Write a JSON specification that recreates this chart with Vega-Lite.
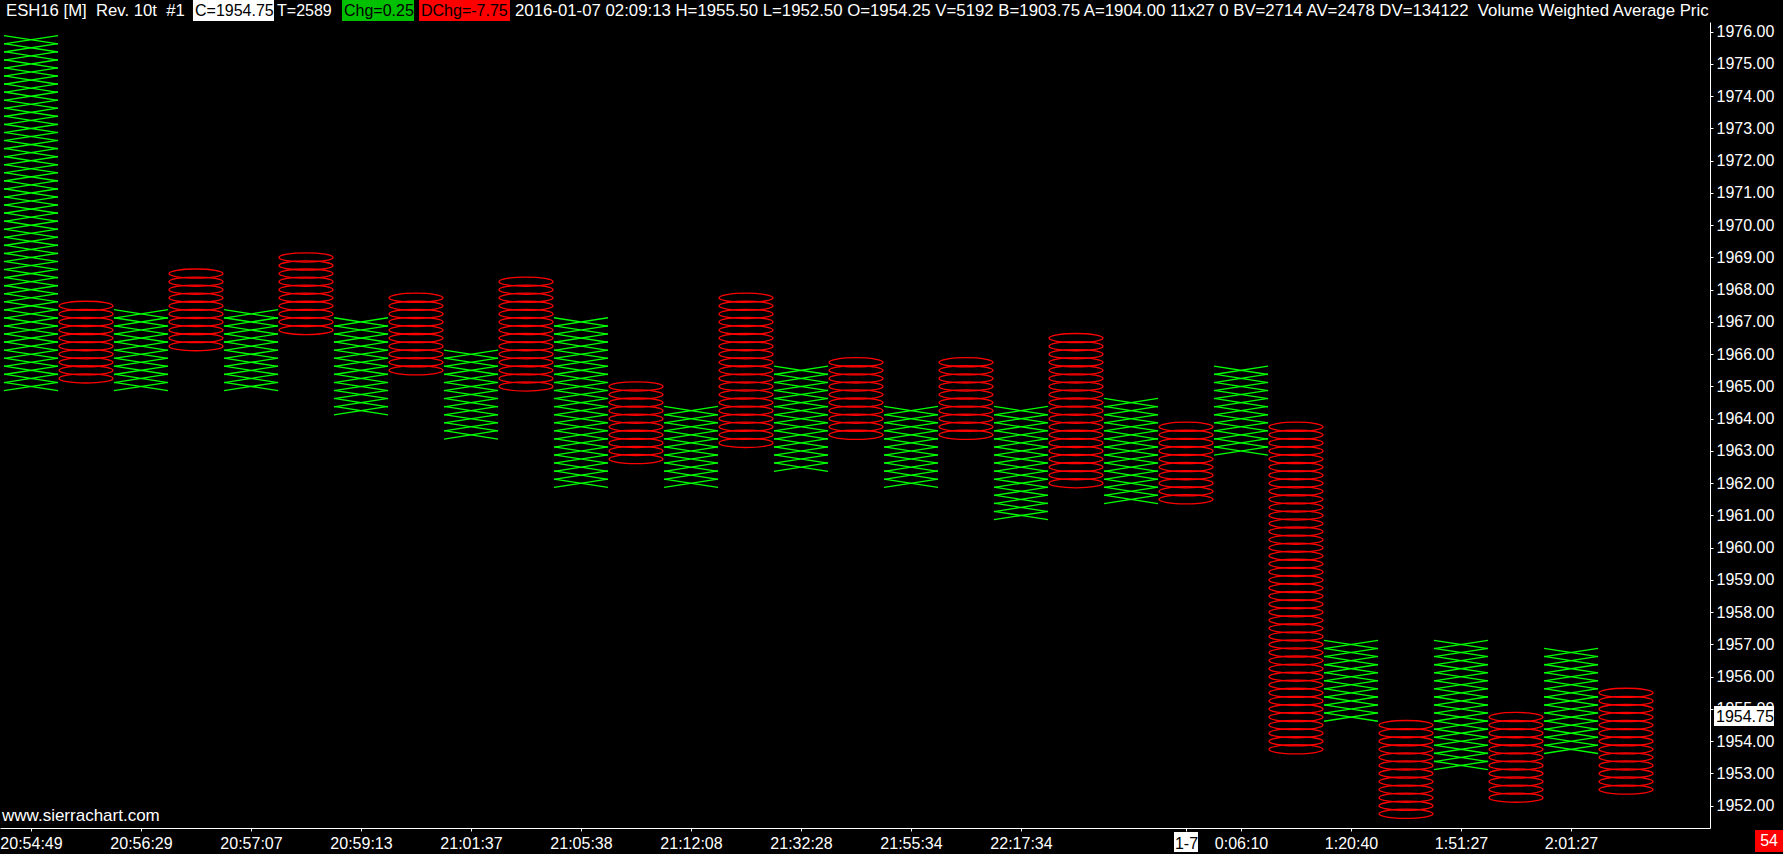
{
"$schema": "https://vega.github.io/schema/vega-lite/v6.json",
"autosize": {"type": "none"},
"padding": {"left": 0, "top": 22, "right": 73, "bottom": 26},
"width": 1710,
"height": 806,
"background": "#000000",
"config": {"view": {"stroke": null}, "text": {"font": "Liberation Sans"},
"axis": {"grid": false, "title": null, "domainColor": "#ffffff", "tickColor": "#ffffff", "labelColor": "#ffffff", "labelFont": "Liberation Sans", "labelFontSize": 16, "tickSize": 3, "labelOverlap": false, "labelFlush": false}},
"datasets": {
"boxes": [
{"col":1,"price":1965,"box":"X"},{"col":1,"price":1965.25,"box":"X"},{"col":1,"price":1965.5,"box":"X"},{"col":1,"price":1965.75,"box":"X"},
{"col":1,"price":1966,"box":"X"},{"col":1,"price":1966.25,"box":"X"},{"col":1,"price":1966.5,"box":"X"},{"col":1,"price":1966.75,"box":"X"},
{"col":1,"price":1967,"box":"X"},{"col":1,"price":1967.25,"box":"X"},{"col":1,"price":1967.5,"box":"X"},{"col":1,"price":1967.75,"box":"X"},
{"col":1,"price":1968,"box":"X"},{"col":1,"price":1968.25,"box":"X"},{"col":1,"price":1968.5,"box":"X"},{"col":1,"price":1968.75,"box":"X"},
{"col":1,"price":1969,"box":"X"},{"col":1,"price":1969.25,"box":"X"},{"col":1,"price":1969.5,"box":"X"},{"col":1,"price":1969.75,"box":"X"},
{"col":1,"price":1970,"box":"X"},{"col":1,"price":1970.25,"box":"X"},{"col":1,"price":1970.5,"box":"X"},{"col":1,"price":1970.75,"box":"X"},
{"col":1,"price":1971,"box":"X"},{"col":1,"price":1971.25,"box":"X"},{"col":1,"price":1971.5,"box":"X"},{"col":1,"price":1971.75,"box":"X"},
{"col":1,"price":1972,"box":"X"},{"col":1,"price":1972.25,"box":"X"},{"col":1,"price":1972.5,"box":"X"},{"col":1,"price":1972.75,"box":"X"},
{"col":1,"price":1973,"box":"X"},{"col":1,"price":1973.25,"box":"X"},{"col":1,"price":1973.5,"box":"X"},{"col":1,"price":1973.75,"box":"X"},
{"col":1,"price":1974,"box":"X"},{"col":1,"price":1974.25,"box":"X"},{"col":1,"price":1974.5,"box":"X"},{"col":1,"price":1974.75,"box":"X"},
{"col":1,"price":1975,"box":"X"},{"col":1,"price":1975.25,"box":"X"},{"col":1,"price":1975.5,"box":"X"},{"col":1,"price":1975.75,"box":"X"},
{"col":2,"price":1965.25,"box":"O"},{"col":2,"price":1965.5,"box":"O"},{"col":2,"price":1965.75,"box":"O"},{"col":2,"price":1966,"box":"O"},{"col":2,"price":1966.25,"box":"O"},
{"col":2,"price":1966.5,"box":"O"},{"col":2,"price":1966.75,"box":"O"},{"col":2,"price":1967,"box":"O"},{"col":2,"price":1967.25,"box":"O"},{"col":2,"price":1967.5,"box":"O"},
{"col":3,"price":1965,"box":"X"},{"col":3,"price":1965.25,"box":"X"},{"col":3,"price":1965.5,"box":"X"},{"col":3,"price":1965.75,"box":"X"},{"col":3,"price":1966,"box":"X"},
{"col":3,"price":1966.25,"box":"X"},{"col":3,"price":1966.5,"box":"X"},{"col":3,"price":1966.75,"box":"X"},{"col":3,"price":1967,"box":"X"},{"col":3,"price":1967.25,"box":"X"},
{"col":4,"price":1966.25,"box":"O"},{"col":4,"price":1966.5,"box":"O"},{"col":4,"price":1966.75,"box":"O"},{"col":4,"price":1967,"box":"O"},{"col":4,"price":1967.25,"box":"O"},
{"col":4,"price":1967.5,"box":"O"},{"col":4,"price":1967.75,"box":"O"},{"col":4,"price":1968,"box":"O"},{"col":4,"price":1968.25,"box":"O"},{"col":4,"price":1968.5,"box":"O"},
{"col":5,"price":1965,"box":"X"},{"col":5,"price":1965.25,"box":"X"},{"col":5,"price":1965.5,"box":"X"},{"col":5,"price":1965.75,"box":"X"},{"col":5,"price":1966,"box":"X"},
{"col":5,"price":1966.25,"box":"X"},{"col":5,"price":1966.5,"box":"X"},{"col":5,"price":1966.75,"box":"X"},{"col":5,"price":1967,"box":"X"},{"col":5,"price":1967.25,"box":"X"},
{"col":6,"price":1966.75,"box":"O"},{"col":6,"price":1967,"box":"O"},{"col":6,"price":1967.25,"box":"O"},{"col":6,"price":1967.5,"box":"O"},{"col":6,"price":1967.75,"box":"O"},
{"col":6,"price":1968,"box":"O"},{"col":6,"price":1968.25,"box":"O"},{"col":6,"price":1968.5,"box":"O"},{"col":6,"price":1968.75,"box":"O"},{"col":6,"price":1969,"box":"O"},
{"col":7,"price":1964.25,"box":"X"},{"col":7,"price":1964.5,"box":"X"},{"col":7,"price":1964.75,"box":"X"},{"col":7,"price":1965,"box":"X"},{"col":7,"price":1965.25,"box":"X"},{"col":7,"price":1965.5,"box":"X"},
{"col":7,"price":1965.75,"box":"X"},{"col":7,"price":1966,"box":"X"},{"col":7,"price":1966.25,"box":"X"},{"col":7,"price":1966.5,"box":"X"},{"col":7,"price":1966.75,"box":"X"},{"col":7,"price":1967,"box":"X"},
{"col":8,"price":1965.5,"box":"O"},{"col":8,"price":1965.75,"box":"O"},{"col":8,"price":1966,"box":"O"},{"col":8,"price":1966.25,"box":"O"},{"col":8,"price":1966.5,"box":"O"},
{"col":8,"price":1966.75,"box":"O"},{"col":8,"price":1967,"box":"O"},{"col":8,"price":1967.25,"box":"O"},{"col":8,"price":1967.5,"box":"O"},{"col":8,"price":1967.75,"box":"O"},
{"col":9,"price":1963.5,"box":"X"},{"col":9,"price":1963.75,"box":"X"},{"col":9,"price":1964,"box":"X"},{"col":9,"price":1964.25,"box":"X"},{"col":9,"price":1964.5,"box":"X"},{"col":9,"price":1964.75,"box":"X"},
{"col":9,"price":1965,"box":"X"},{"col":9,"price":1965.25,"box":"X"},{"col":9,"price":1965.5,"box":"X"},{"col":9,"price":1965.75,"box":"X"},{"col":9,"price":1966,"box":"X"},
{"col":10,"price":1965,"box":"O"},{"col":10,"price":1965.25,"box":"O"},{"col":10,"price":1965.5,"box":"O"},{"col":10,"price":1965.75,"box":"O"},{"col":10,"price":1966,"box":"O"},
{"col":10,"price":1966.25,"box":"O"},{"col":10,"price":1966.5,"box":"O"},{"col":10,"price":1966.75,"box":"O"},{"col":10,"price":1967,"box":"O"},{"col":10,"price":1967.25,"box":"O"},
{"col":10,"price":1967.5,"box":"O"},{"col":10,"price":1967.75,"box":"O"},{"col":10,"price":1968,"box":"O"},{"col":10,"price":1968.25,"box":"O"},
{"col":11,"price":1962,"box":"X"},{"col":11,"price":1962.25,"box":"X"},{"col":11,"price":1962.5,"box":"X"},{"col":11,"price":1962.75,"box":"X"},{"col":11,"price":1963,"box":"X"},
{"col":11,"price":1963.25,"box":"X"},{"col":11,"price":1963.5,"box":"X"},{"col":11,"price":1963.75,"box":"X"},{"col":11,"price":1964,"box":"X"},{"col":11,"price":1964.25,"box":"X"},
{"col":11,"price":1964.5,"box":"X"},{"col":11,"price":1964.75,"box":"X"},{"col":11,"price":1965,"box":"X"},{"col":11,"price":1965.25,"box":"X"},{"col":11,"price":1965.5,"box":"X"},
{"col":11,"price":1965.75,"box":"X"},{"col":11,"price":1966,"box":"X"},{"col":11,"price":1966.25,"box":"X"},{"col":11,"price":1966.5,"box":"X"},{"col":11,"price":1966.75,"box":"X"},{"col":11,"price":1967,"box":"X"},
{"col":12,"price":1962.75,"box":"O"},{"col":12,"price":1963,"box":"O"},{"col":12,"price":1963.25,"box":"O"},{"col":12,"price":1963.5,"box":"O"},{"col":12,"price":1963.75,"box":"O"},
{"col":12,"price":1964,"box":"O"},{"col":12,"price":1964.25,"box":"O"},{"col":12,"price":1964.5,"box":"O"},{"col":12,"price":1964.75,"box":"O"},{"col":12,"price":1965,"box":"O"},
{"col":13,"price":1962,"box":"X"},{"col":13,"price":1962.25,"box":"X"},{"col":13,"price":1962.5,"box":"X"},{"col":13,"price":1962.75,"box":"X"},{"col":13,"price":1963,"box":"X"},
{"col":13,"price":1963.25,"box":"X"},{"col":13,"price":1963.5,"box":"X"},{"col":13,"price":1963.75,"box":"X"},{"col":13,"price":1964,"box":"X"},{"col":13,"price":1964.25,"box":"X"},
{"col":14,"price":1963.25,"box":"O"},{"col":14,"price":1963.5,"box":"O"},{"col":14,"price":1963.75,"box":"O"},{"col":14,"price":1964,"box":"O"},{"col":14,"price":1964.25,"box":"O"},
{"col":14,"price":1964.5,"box":"O"},{"col":14,"price":1964.75,"box":"O"},{"col":14,"price":1965,"box":"O"},{"col":14,"price":1965.25,"box":"O"},{"col":14,"price":1965.5,"box":"O"},
{"col":14,"price":1965.75,"box":"O"},{"col":14,"price":1966,"box":"O"},{"col":14,"price":1966.25,"box":"O"},{"col":14,"price":1966.5,"box":"O"},{"col":14,"price":1966.75,"box":"O"},
{"col":14,"price":1967,"box":"O"},{"col":14,"price":1967.25,"box":"O"},{"col":14,"price":1967.5,"box":"O"},{"col":14,"price":1967.75,"box":"O"},
{"col":15,"price":1962.5,"box":"X"},{"col":15,"price":1962.75,"box":"X"},{"col":15,"price":1963,"box":"X"},{"col":15,"price":1963.25,"box":"X"},{"col":15,"price":1963.5,"box":"X"},
{"col":15,"price":1963.75,"box":"X"},{"col":15,"price":1964,"box":"X"},{"col":15,"price":1964.25,"box":"X"},{"col":15,"price":1964.5,"box":"X"},{"col":15,"price":1964.75,"box":"X"},
{"col":15,"price":1965,"box":"X"},{"col":15,"price":1965.25,"box":"X"},{"col":15,"price":1965.5,"box":"X"},
{"col":16,"price":1963.5,"box":"O"},{"col":16,"price":1963.75,"box":"O"},{"col":16,"price":1964,"box":"O"},{"col":16,"price":1964.25,"box":"O"},{"col":16,"price":1964.5,"box":"O"},
{"col":16,"price":1964.75,"box":"O"},{"col":16,"price":1965,"box":"O"},{"col":16,"price":1965.25,"box":"O"},{"col":16,"price":1965.5,"box":"O"},{"col":16,"price":1965.75,"box":"O"},
{"col":17,"price":1962,"box":"X"},{"col":17,"price":1962.25,"box":"X"},{"col":17,"price":1962.5,"box":"X"},{"col":17,"price":1962.75,"box":"X"},{"col":17,"price":1963,"box":"X"},
{"col":17,"price":1963.25,"box":"X"},{"col":17,"price":1963.5,"box":"X"},{"col":17,"price":1963.75,"box":"X"},{"col":17,"price":1964,"box":"X"},{"col":17,"price":1964.25,"box":"X"},
{"col":18,"price":1963.5,"box":"O"},{"col":18,"price":1963.75,"box":"O"},{"col":18,"price":1964,"box":"O"},{"col":18,"price":1964.25,"box":"O"},{"col":18,"price":1964.5,"box":"O"},
{"col":18,"price":1964.75,"box":"O"},{"col":18,"price":1965,"box":"O"},{"col":18,"price":1965.25,"box":"O"},{"col":18,"price":1965.5,"box":"O"},{"col":18,"price":1965.75,"box":"O"},
{"col":19,"price":1961,"box":"X"},{"col":19,"price":1961.25,"box":"X"},{"col":19,"price":1961.5,"box":"X"},{"col":19,"price":1961.75,"box":"X"},{"col":19,"price":1962,"box":"X"},
{"col":19,"price":1962.25,"box":"X"},{"col":19,"price":1962.5,"box":"X"},{"col":19,"price":1962.75,"box":"X"},{"col":19,"price":1963,"box":"X"},{"col":19,"price":1963.25,"box":"X"},
{"col":19,"price":1963.5,"box":"X"},{"col":19,"price":1963.75,"box":"X"},{"col":19,"price":1964,"box":"X"},{"col":19,"price":1964.25,"box":"X"},
{"col":20,"price":1962,"box":"O"},{"col":20,"price":1962.25,"box":"O"},{"col":20,"price":1962.5,"box":"O"},{"col":20,"price":1962.75,"box":"O"},{"col":20,"price":1963,"box":"O"},
{"col":20,"price":1963.25,"box":"O"},{"col":20,"price":1963.5,"box":"O"},{"col":20,"price":1963.75,"box":"O"},{"col":20,"price":1964,"box":"O"},{"col":20,"price":1964.25,"box":"O"},
{"col":20,"price":1964.5,"box":"O"},{"col":20,"price":1964.75,"box":"O"},{"col":20,"price":1965,"box":"O"},{"col":20,"price":1965.25,"box":"O"},{"col":20,"price":1965.5,"box":"O"},
{"col":20,"price":1965.75,"box":"O"},{"col":20,"price":1966,"box":"O"},{"col":20,"price":1966.25,"box":"O"},{"col":20,"price":1966.5,"box":"O"},
{"col":21,"price":1961.5,"box":"X"},{"col":21,"price":1961.75,"box":"X"},{"col":21,"price":1962,"box":"X"},{"col":21,"price":1962.25,"box":"X"},{"col":21,"price":1962.5,"box":"X"},
{"col":21,"price":1962.75,"box":"X"},{"col":21,"price":1963,"box":"X"},{"col":21,"price":1963.25,"box":"X"},{"col":21,"price":1963.5,"box":"X"},{"col":21,"price":1963.75,"box":"X"},
{"col":21,"price":1964,"box":"X"},{"col":21,"price":1964.25,"box":"X"},{"col":21,"price":1964.5,"box":"X"},
{"col":22,"price":1961.5,"box":"O"},{"col":22,"price":1961.75,"box":"O"},{"col":22,"price":1962,"box":"O"},{"col":22,"price":1962.25,"box":"O"},{"col":22,"price":1962.5,"box":"O"},
{"col":22,"price":1962.75,"box":"O"},{"col":22,"price":1963,"box":"O"},{"col":22,"price":1963.25,"box":"O"},{"col":22,"price":1963.5,"box":"O"},{"col":22,"price":1963.75,"box":"O"},
{"col":23,"price":1963,"box":"X"},{"col":23,"price":1963.25,"box":"X"},{"col":23,"price":1963.5,"box":"X"},{"col":23,"price":1963.75,"box":"X"},{"col":23,"price":1964,"box":"X"},{"col":23,"price":1964.25,"box":"X"},
{"col":23,"price":1964.5,"box":"X"},{"col":23,"price":1964.75,"box":"X"},{"col":23,"price":1965,"box":"X"},{"col":23,"price":1965.25,"box":"X"},{"col":23,"price":1965.5,"box":"X"},
{"col":24,"price":1953.75,"box":"O"},{"col":24,"price":1954,"box":"O"},{"col":24,"price":1954.25,"box":"O"},{"col":24,"price":1954.5,"box":"O"},{"col":24,"price":1954.75,"box":"O"},
{"col":24,"price":1955,"box":"O"},{"col":24,"price":1955.25,"box":"O"},{"col":24,"price":1955.5,"box":"O"},{"col":24,"price":1955.75,"box":"O"},
{"col":24,"price":1956,"box":"O"},{"col":24,"price":1956.25,"box":"O"},{"col":24,"price":1956.5,"box":"O"},{"col":24,"price":1956.75,"box":"O"},
{"col":24,"price":1957,"box":"O"},{"col":24,"price":1957.25,"box":"O"},{"col":24,"price":1957.5,"box":"O"},{"col":24,"price":1957.75,"box":"O"},
{"col":24,"price":1958,"box":"O"},{"col":24,"price":1958.25,"box":"O"},{"col":24,"price":1958.5,"box":"O"},{"col":24,"price":1958.75,"box":"O"},
{"col":24,"price":1959,"box":"O"},{"col":24,"price":1959.25,"box":"O"},{"col":24,"price":1959.5,"box":"O"},{"col":24,"price":1959.75,"box":"O"},
{"col":24,"price":1960,"box":"O"},{"col":24,"price":1960.25,"box":"O"},{"col":24,"price":1960.5,"box":"O"},{"col":24,"price":1960.75,"box":"O"},
{"col":24,"price":1961,"box":"O"},{"col":24,"price":1961.25,"box":"O"},{"col":24,"price":1961.5,"box":"O"},{"col":24,"price":1961.75,"box":"O"},
{"col":24,"price":1962,"box":"O"},{"col":24,"price":1962.25,"box":"O"},{"col":24,"price":1962.5,"box":"O"},{"col":24,"price":1962.75,"box":"O"},
{"col":24,"price":1963,"box":"O"},{"col":24,"price":1963.25,"box":"O"},{"col":24,"price":1963.5,"box":"O"},{"col":24,"price":1963.75,"box":"O"},
{"col":25,"price":1954.75,"box":"X"},{"col":25,"price":1955,"box":"X"},{"col":25,"price":1955.25,"box":"X"},{"col":25,"price":1955.5,"box":"X"},{"col":25,"price":1955.75,"box":"X"},
{"col":25,"price":1956,"box":"X"},{"col":25,"price":1956.25,"box":"X"},{"col":25,"price":1956.5,"box":"X"},{"col":25,"price":1956.75,"box":"X"},{"col":25,"price":1957,"box":"X"},
{"col":26,"price":1951.75,"box":"O"},{"col":26,"price":1952,"box":"O"},{"col":26,"price":1952.25,"box":"O"},{"col":26,"price":1952.5,"box":"O"},{"col":26,"price":1952.75,"box":"O"},{"col":26,"price":1953,"box":"O"},
{"col":26,"price":1953.25,"box":"O"},{"col":26,"price":1953.5,"box":"O"},{"col":26,"price":1953.75,"box":"O"},{"col":26,"price":1954,"box":"O"},{"col":26,"price":1954.25,"box":"O"},{"col":26,"price":1954.5,"box":"O"},
{"col":27,"price":1953.25,"box":"X"},{"col":27,"price":1953.5,"box":"X"},{"col":27,"price":1953.75,"box":"X"},{"col":27,"price":1954,"box":"X"},{"col":27,"price":1954.25,"box":"X"},{"col":27,"price":1954.5,"box":"X"},
{"col":27,"price":1954.75,"box":"X"},{"col":27,"price":1955,"box":"X"},{"col":27,"price":1955.25,"box":"X"},{"col":27,"price":1955.5,"box":"X"},{"col":27,"price":1955.75,"box":"X"},{"col":27,"price":1956,"box":"X"},
{"col":27,"price":1956.25,"box":"X"},{"col":27,"price":1956.5,"box":"X"},{"col":27,"price":1956.75,"box":"X"},{"col":27,"price":1957,"box":"X"},
{"col":28,"price":1952.25,"box":"O"},{"col":28,"price":1952.5,"box":"O"},{"col":28,"price":1952.75,"box":"O"},{"col":28,"price":1953,"box":"O"},{"col":28,"price":1953.25,"box":"O"},{"col":28,"price":1953.5,"box":"O"},
{"col":28,"price":1953.75,"box":"O"},{"col":28,"price":1954,"box":"O"},{"col":28,"price":1954.25,"box":"O"},{"col":28,"price":1954.5,"box":"O"},{"col":28,"price":1954.75,"box":"O"},
{"col":29,"price":1953.75,"box":"X"},{"col":29,"price":1954,"box":"X"},{"col":29,"price":1954.25,"box":"X"},{"col":29,"price":1954.5,"box":"X"},{"col":29,"price":1954.75,"box":"X"},{"col":29,"price":1955,"box":"X"},
{"col":29,"price":1955.25,"box":"X"},{"col":29,"price":1955.5,"box":"X"},{"col":29,"price":1955.75,"box":"X"},{"col":29,"price":1956,"box":"X"},{"col":29,"price":1956.25,"box":"X"},{"col":29,"price":1956.5,"box":"X"},{"col":29,"price":1956.75,"box":"X"},
{"col":30,"price":1952.5,"box":"O"},{"col":30,"price":1952.75,"box":"O"},{"col":30,"price":1953,"box":"O"},{"col":30,"price":1953.25,"box":"O"},{"col":30,"price":1953.5,"box":"O"},{"col":30,"price":1953.75,"box":"O"},
{"col":30,"price":1954,"box":"O"},{"col":30,"price":1954.25,"box":"O"},{"col":30,"price":1954.5,"box":"O"},{"col":30,"price":1954.75,"box":"O"},{"col":30,"price":1955,"box":"O"},{"col":30,"price":1955.25,"box":"O"},{"col":30,"price":1955.5,"box":"O"}
]
},
"data": {"name": "boxes"},
"layer": [
{
"transform": [{"filter": "datum.box == 'X'"}],
"mark": {"type": "point", "shape": "M-1,-0.155L1,0.155M-1,0.155L1,-0.155", "size": 2916, "filled": false, "color": "#00ff00", "opacity": 1, "strokeWidth": 1.3},
"encoding": {
"x": {"field": "col", "type": "quantitative", "title": null, "scale": {"domain": [0.4364, 31.527], "nice": false, "zero": false},
"axis": {"orient": "bottom", "values": [1,3,5,7,9,11,13,15,17,19,22,23,25,27,29],
"labelExpr": "['','20:54:49','','20:56:29','','20:57:07','','20:59:13','','21:01:37','','21:05:38','','21:12:08','','21:32:28','','21:55:34','','22:17:34','','','1-7','0:06:10','','1:20:40','','1:51:27','','2:01:27'][datum.value]",
"labelColor": {"condition": {"test": "datum.value == 22", "value": "#000000"}, "value": "#ffffff"},
"zindex": 1, "labelPadding": 4, "labelOverlap": false}},
"y": {"field": "price", "type": "quantitative", "title": null, "scale": {"domain": [1951.31, 1976.30], "nice": false, "zero": false},
"axis": {"orient": "right", "values": [1952,1953,1954,1955,1956,1957,1958,1959,1960,1961,1962,1963,1964,1965,1966,1967,1968,1969,1970,1971,1972,1973,1974,1975,1976],
"tickCount": 25, "format": ".2f", "labelPadding": 3, "labelAlign": "left", "labelBaseline": "middle", "zindex": 0, "labelOverlap": false}}
}
},
{
"transform": [{"filter": "datum.box == 'O'"}],
"mark": {"type": "point", "shape": "M-1,0A1,0.17,0,1,1,1,0A1,0.17,0,1,1,-1,0Z", "size": 2916, "filled": false, "color": "#ff0000", "opacity": 1, "strokeWidth": 1.3},
"encoding": {
"x": {"field": "col", "type": "quantitative", "title": null},
"y": {"field": "price", "type": "quantitative", "title": null}
}
},
{
"data": {"values": [{}]},
"mark": {"type": "rect", "color": "#ffffff"},
"encoding": {"x": {"datum": 3.945, "type": "quantitative", "title": null}, "x2": {"datum": 5.418}, "y": {"datum": 1976.982, "type": "quantitative", "title": null}, "y2": {"datum": 1976.331}}
},
{
"data": {"values": [{}]},
"mark": {"type": "rect", "color": "#00c000"},
"encoding": {"x": {"datum": 6.655, "type": "quantitative", "title": null}, "x2": {"datum": 7.964}, "y": {"datum": 1976.982, "type": "quantitative", "title": null}, "y2": {"datum": 1976.331}}
},
{
"data": {"values": [{}]},
"mark": {"type": "rect", "color": "#ff0000"},
"encoding": {"x": {"datum": 8.055, "type": "quantitative", "title": null}, "x2": {"datum": 9.709}, "y": {"datum": 1976.982, "type": "quantitative", "title": null}, "y2": {"datum": 1976.331}}
},
{
"data": {"values": [{}]},
"mark": {"type": "text", "text": "ESH16 [M]\u00a0 Rev. 10t\u00a0 #1", "align": "left", "baseline": "middle", "font": "Liberation Sans", "fontSize": 16.7, "color": "#ffffff"},
"encoding": {"x": {"datum": 0.5455, "type": "quantitative", "title": null}, "y": {"datum": 1976.641, "type": "quantitative", "title": null}}
},
{
"data": {"values": [{}]},
"mark": {"type": "text", "text": "C=1954.75", "align": "left", "baseline": "middle", "font": "Liberation Sans", "fontSize": 16, "color": "#000000"},
"encoding": {"x": {"datum": 3.982, "type": "quantitative", "title": null}, "y": {"datum": 1976.641, "type": "quantitative", "title": null}}
},
{
"data": {"values": [{}]},
"mark": {"type": "text", "text": "T=2589", "align": "left", "baseline": "middle", "font": "Liberation Sans", "fontSize": 16, "color": "#ffffff"},
"encoding": {"x": {"datum": 5.473, "type": "quantitative", "title": null}, "y": {"datum": 1976.641, "type": "quantitative", "title": null}}
},
{
"data": {"values": [{}]},
"mark": {"type": "text", "text": "Chg=0.25", "align": "left", "baseline": "middle", "font": "Liberation Sans", "fontSize": 16, "color": "#000000"},
"encoding": {"x": {"datum": 6.691, "type": "quantitative", "title": null}, "y": {"datum": 1976.641, "type": "quantitative", "title": null}}
},
{
"data": {"values": [{}]},
"mark": {"type": "text", "text": "DChg=-7.75", "align": "left", "baseline": "middle", "font": "Liberation Sans", "fontSize": 16, "color": "#000000"},
"encoding": {"x": {"datum": 8.091, "type": "quantitative", "title": null}, "y": {"datum": 1976.641, "type": "quantitative", "title": null}}
},
{
"data": {"values": [{}]},
"mark": {"type": "text", "text": "2016-01-07 02:09:13 H=1955.50 L=1952.50 O=1954.25 V=5192 B=1903.75 A=1904.00 11x27 0 BV=2714 AV=2478 DV=134122\u00a0 Volume Weighted Average Price", "align": "left", "baseline": "middle", "font": "Liberation Sans", "fontSize": 16.8, "color": "#ffffff", "limit": 1197, "ellipsis": "\u200b"},
"encoding": {"x": {"datum": 9.8, "type": "quantitative", "title": null}, "y": {"datum": 1976.641, "type": "quantitative", "title": null}}
},
{
"data": {"values": [{}]},
"mark": {"type": "rect", "color": "#ffffff"},
"encoding": {"x": {"datum": 31.6, "type": "quantitative", "title": null}, "x2": {"datum": 32.69}, "y": {"datum": 1955.093, "type": "quantitative", "title": null}, "y2": {"datum": 1954.473}}
},
{
"data": {"values": [{}]},
"mark": {"type": "text", "text": "1954.75", "align": "left", "baseline": "middle", "font": "Liberation Sans", "fontSize": 16, "color": "#000000"},
"encoding": {"x": {"datum": 31.636, "type": "quantitative", "title": null}, "y": {"datum": 1954.75, "type": "quantitative", "title": null}}
},
{
"data": {"values": [{}]},
"mark": {"type": "rect", "color": "#ffffff"},
"encoding": {"x": {"datum": 21.782, "type": "quantitative", "title": null}, "x2": {"datum": 22.218}, "y": {"datum": 1951.186, "type": "quantitative", "title": null}, "y2": {"datum": 1950.566}}
},
{
"data": {"values": [{}]},
"mark": {"type": "rect", "color": "#ff0000"},
"encoding": {"x": {"datum": 32.345, "type": "quantitative", "title": null}, "x2": {"datum": 32.8545}, "y": {"datum": 1951.248, "type": "quantitative", "title": null}, "y2": {"datum": 1950.566}}
},
{
"data": {"values": [{}]},
"mark": {"type": "text", "text": "54", "align": "center", "baseline": "middle", "font": "Liberation Sans", "fontSize": 16, "color": "#ffffff"},
"encoding": {"x": {"datum": 32.6, "type": "quantitative", "title": null}, "y": {"datum": 1950.907, "type": "quantitative", "title": null}}
},
{
"data": {"values": [{}]},
"mark": {"type": "text", "text": "www.sierrachart.com", "align": "left", "baseline": "middle", "font": "Liberation Sans", "fontSize": 17, "color": "#ffffff"},
"encoding": {"x": {"datum": 0.473, "type": "quantitative", "title": null}, "y": {"datum": 1951.682, "type": "quantitative", "title": null}}
}
]
}
